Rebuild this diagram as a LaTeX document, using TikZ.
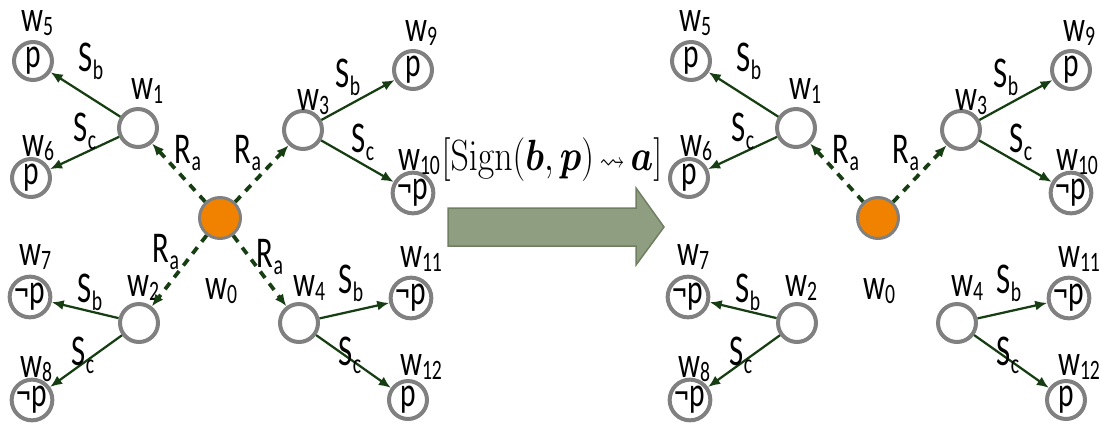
\documentclass[tikz,border=0pt]{standalone}
\usepackage{amsmath,amssymb}
\usepackage[no-math]{fontspec}
\setmainfont[FakeStretch=0.7]{Carlito}
\usetikzlibrary{arrows.meta}
\definecolor{WorldGray}{RGB}{128,128,128}
\definecolor{ActOrange}{RGB}{240,130,0}
\definecolor{EdgeGreen}{RGB}{22,62,18}
\definecolor{ArrowFill}{RGB}{143,158,128}
\definecolor{ArrowLine}{RGB}{112,126,98}
\newcommand{\wl}[1]{w\raisebox{-2pt}{\fontsize{16}{16}\selectfont #1}}
\newcommand{\rel}[2]{#1\raisebox{-4.5pt}{\fontsize{16}{16}\selectfont #2}}
\tikzset{
    world/.style={draw=WorldGray, line width=0.08cm, circle, fill=white, minimum size=0.76cm, inner sep=0pt, font=\fontsize{24}{24}\selectfont},
    actual/.style={draw=WorldGray, line width=0.06cm, circle, fill=ActOrange, minimum size=0.82cm, inner sep=0pt},
    wlabel/.style={font=\fontsize{25}{25}\selectfont, inner sep=0pt},
    elabel/.style={font=\fontsize{25}{25}\selectfont, inner sep=0pt},
    relarr/.style={-{Latex[length=0.24cm,width=0.2cm]}, line width=0.045cm, EdgeGreen},
    accarr/.style={-{Latex[length=0.24cm,width=0.2cm]}, line width=0.075cm, EdgeGreen, dash pattern=on 0.16cm off 0.14cm},
    bigarrow/.style={draw=ArrowLine, line width=0.03cm, fill=ArrowFill},
}

\begin{document}
\begin{tikzpicture}[x=0.02cm, y=-0.02cm]
\useasboundingbox (0,0) rectangle (1100,430);

% both models, the right one shifted
\foreach \side/\dx in {L/0, R/658} {
\begin{scope}[xshift=\dx*0.02cm]
\node[actual] (\side-w0) at (220,218) {};
\node[wlabel] (\side-l0) at (221,291) {\wl{0}};
\foreach \n/\x/\y/\lx/\ly/\t in {1/138/128/147/91/{}, 2/139/323/143/288/{}, 3/303/130/313/102/{}, 4/299/323/309/288/{},
    5/33/61/37/23/p, 6/31/178/38/148/p, 7/30/297/35/257/¬p, 8/32/400/36/369/¬p,
    9/413/70/421/33/p, 10/413/193/419/162/¬p, 11/411/298/421/259/¬p, 12/408/400/421/367/p} {
  \node[world] (\side-w\n) at (\x,\y) {\t};
  \node[wlabel] (\side-l\n) at (\lx,\ly) {\wl{\n}};
}
\draw[relarr] (\side-w1) -- (\side-w5);
\draw[relarr] (\side-w1) -- (\side-w6);
\draw[relarr] (\side-w2) -- (\side-w7);
\draw[relarr] (\side-w2) -- (\side-w8);
\draw[relarr] (\side-w3) -- (\side-w9);
\draw[relarr] (\side-w3) -- (\side-w10);
\draw[relarr] (\side-w4) -- (\side-w11);
\draw[relarr] (\side-w4) -- (\side-w12);
\draw[accarr] (\side-w0) -- (\side-w1);
\draw[accarr] (\side-w0) -- (\side-w3);
\node[elabel] (\side-sb1) at (91,61) {\rel{S}{b}};
\node[elabel] (\side-sc1) at (85,131) {\rel{S}{c}};
\node[elabel] (\side-sb2) at (90,292) {\rel{S}{b}};
\node[elabel] (\side-sc2) at (83,355) {\rel{S}{c}};
\node[elabel] (\side-sb3) at (348,77) {\rel{S}{b}};
\node[elabel] (\side-sc3) at (363,142) {\rel{S}{c}};
\node[elabel] (\side-sb4) at (351,283) {\rel{S}{b}};
\node[elabel] (\side-sc4) at (350,355) {\rel{S}{c}};
\node[elabel] (\side-ra1) at (188,153) {\rel{R}{a}};
\node[elabel] (\side-ra3) at (248,153) {\rel{R}{a}};
\end{scope}
}

% accessible only before the announcement
\draw[accarr] (L-w0) -- (L-w2);
\draw[accarr] (L-w0) -- (L-w4);
\node[elabel] (L-ra2) at (166,252) {\rel{R}{a}};
\node[elabel] (L-ra4) at (270,257) {\rel{R}{a}};

% update arrow
\draw[bigarrow] (448,208) -- (636,208) -- (636,188) -- (664,227) -- (636,265) -- (636,246) -- (448,246) -- cycle;
\node (sign) at (552,160) {\scalebox{0.82}[1]{\fontsize{25}{25}\selectfont $[\mathrm{Sign}(\boldsymbol{b},\boldsymbol{p})\ {\scriptstyle\rightsquigarrow}\ \boldsymbol{a}]$}};
\end{tikzpicture}
\end{document}
